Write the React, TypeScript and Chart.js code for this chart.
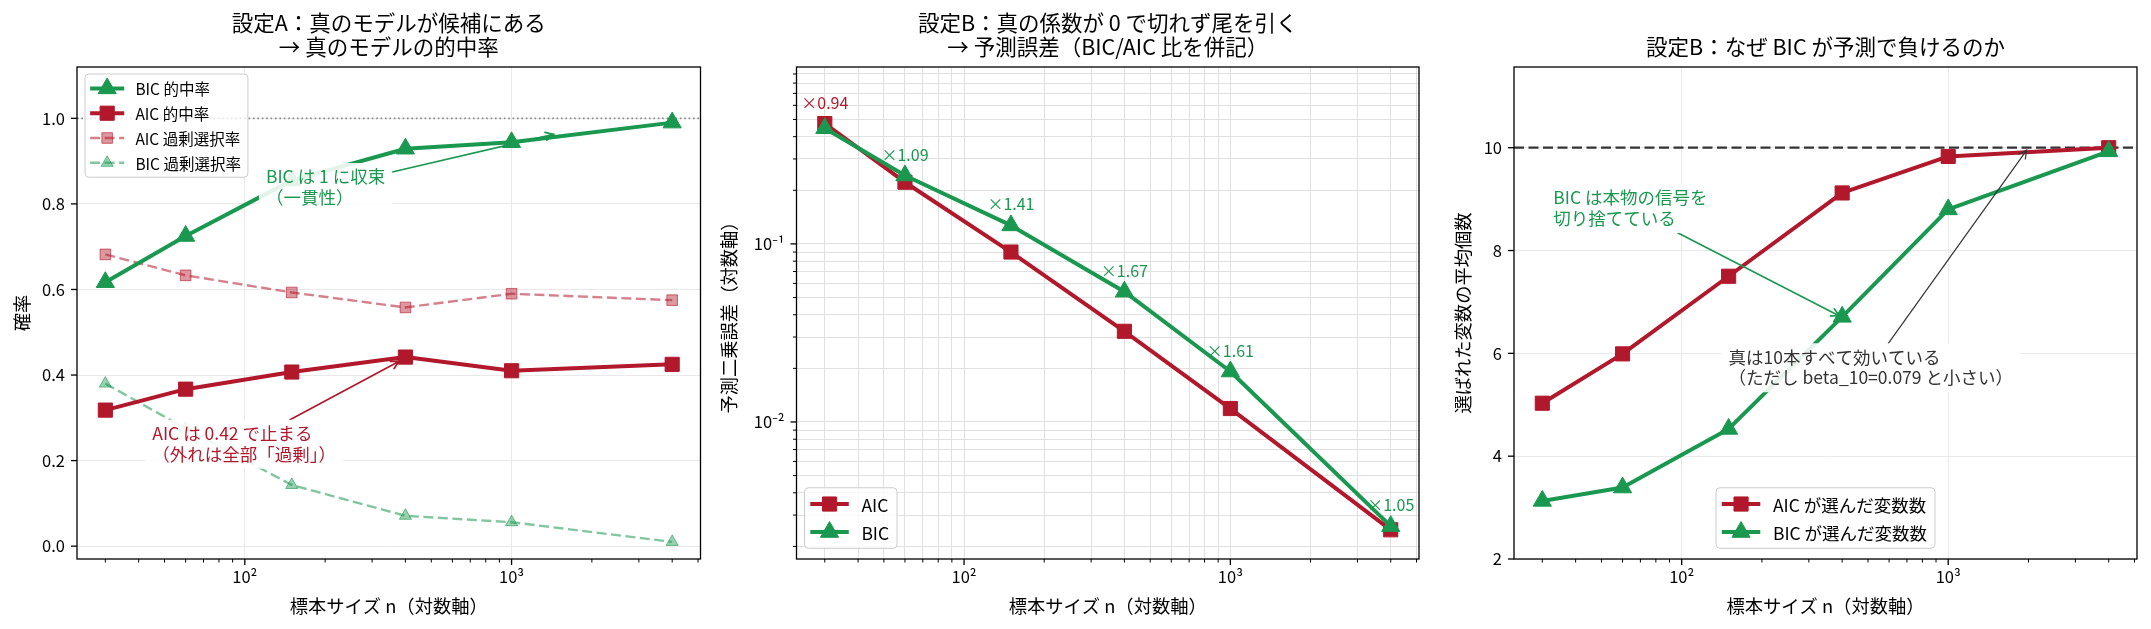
import React, { useEffect, useRef } from "react";
import { Chart, registerables } from "chart.js";

Chart.register(...registerables);

const FONT = '"Noto Sans CJK JP", "Noto Sans", "DejaVu Sans", sans-serif';
Chart.defaults.font.family = FONT;

const RED = "#b2182b";
const GREEN = "#1a9850";
const RED_SOFT = "rgba(178, 24, 43, 0.55)";
const GREEN_SOFT = "rgba(26, 152, 80, 0.55)";

// 標本サイズ（3 パネル共通）
const sampleSizes = [30, 60, 150, 400, 1000, 4000];

// 設定A：真のモデルの的中率・過剰選択率
const bicHitRate = [0.617, 0.725, 0.855, 0.929, 0.944, 0.99];
const aicHitRate = [0.318, 0.367, 0.407, 0.442, 0.41, 0.425];
const aicOverRate = [0.682, 0.633, 0.593, 0.558, 0.59, 0.575];
const bicOverRate = [0.38, 0.275, 0.143, 0.071, 0.056, 0.01];

// 設定B：予測二乗誤差と BIC/AIC 比
const aicMse = [0.474, 0.222, 0.09, 0.0323, 0.0119, 0.00248];
const bicMse = [0.446, 0.242, 0.127, 0.0539, 0.0192, 0.0026];
const ratioLabels = ["×0.94", "×1.09", "×1.41", "×1.67", "×1.61", "×1.05"];

// 設定B：選ばれた変数の平均個数
const aicSelected = [5.03, 5.99, 7.5, 9.12, 9.83, 10.0];
const bicSelected = [3.13, 3.39, 4.53, 6.71, 8.8, 9.93];

// 目盛り
const xTicks = [30, 40, 50, 60, 70, 80, 90, 100, 200, 300, 400, 500, 600, 700, 800, 900, 1000, 2000, 3000, 4000, 5000];
const xTickLabels: Record<string, string> = { "100": "10²", "1000": "10³" };
const probTicks = [0, 0.2, 0.4, 0.6, 0.8, 1.0];
const mseTicks = [
  0.002, 0.003, 0.004, 0.005, 0.006, 0.007, 0.008, 0.009, 0.01,
  0.02, 0.03, 0.04, 0.05, 0.06, 0.07, 0.08, 0.09, 0.1,
  0.2, 0.3, 0.4, 0.5, 0.6, 0.7, 0.8, 0.9,
];
const mseTickLabels: Record<string, string> = { "0.01": "10⁻²", "0.1": "10⁻¹" };
const countTicks = [2, 4, 6, 8, 10];

const CANVAS_H = 629;
const AREA_TOP = 67;
const AREA_BOTTOM = 559;
const X_MIN = 23.49;
const X_MAX = 5108;

type Series = {
  label: string;
  values: number[];
  color: string;
  width: number;
  dash?: number[];
  style: "rect" | "triangle";
  radius: number;
  fill: string;
  edge: string;
};

type Note = {
  text: string;
  at: [number, number];
  target: [number, number];
  color: string;
  shrink: number;
  lw: number;
};

type PanelSpec = {
  left: number;
  width: number;
  areaLeft: number;
  areaRight: number;
  title: string[];
  xLabel: string;
  yLabel: string;
  yLabelX: number;
  yType: "linear" | "logarithmic";
  yMin: number;
  yMax: number;
  yTicks: number[];
  yMajor?: number[];
  yLabelOf: (v: number) => string;
  grid: string;
  xGridMinor: boolean;
  series: Series[]; // 先頭が最前面
  legendOrder: number[];
  legendPos: "upper left" | "lower left" | "lower center";
  legendFont: number;
  refLine?: { value: number; color: string; dash: number[]; width: number };
  notes: Note[];
  ratio?: { labels: string[]; aic: number[]; bic: number[] };
};

const bigRect = (label: string, values: number[]): Series => ({
  label, values, color: RED, width: 4, style: "rect", radius: 10, fill: RED, edge: RED,
});
const bigTri = (label: string, values: number[]): Series => ({
  label, values, color: GREEN, width: 4, style: "triangle", radius: 10.5, fill: GREEN, edge: GREEN,
});

const panels: PanelSpec[] = [
  {
    left: 0,
    width: 712,
    areaLeft: 77,
    areaRight: 700.5,
    title: ["設定A：真のモデルが候補にある", "→ 真のモデルの的中率"],
    xLabel: "標本サイズ n（対数軸）",
    yLabel: "確率",
    yLabelX: 22,
    yType: "linear",
    yMin: -0.03,
    yMax: 1.12,
    yTicks: probTicks,
    yLabelOf: (v) => v.toFixed(1),
    grid: "#e9e9e9",
    xGridMinor: false,
    series: [
      bigTri("BIC 的中率", bicHitRate),
      bigRect("AIC 的中率", aicHitRate),
      {
        label: "AIC 過剰選択率", values: aicOverRate, color: RED_SOFT, width: 2.4, dash: [10, 4.5],
        style: "rect", radius: 7.5, fill: "rgba(178, 24, 43, 0.45)", edge: "rgba(178, 24, 43, 0.6)",
      },
      {
        label: "BIC 過剰選択率", values: bicOverRate, color: GREEN_SOFT, width: 2.4, dash: [10, 4.5],
        style: "triangle", radius: 7, fill: "rgba(26, 152, 80, 0.45)", edge: "rgba(26, 152, 80, 0.6)",
      },
    ],
    legendOrder: [0, 1, 2, 3],
    legendPos: "upper left",
    legendFont: 15.5,
    refLine: { value: 1.0, color: "#888888", dash: [1.6, 2.8], width: 1.6 },
    notes: [
      { text: "BIC は 1 に収束\n（一貫性）", at: [120, 0.8], target: [1500, 0.965], color: GREEN, shrink: 5, lw: 1.7 },
      { text: "AIC は 0.42 で止まる\n（外れは全部「過剰」）", at: [45, 0.2], target: [400, 0.44], color: RED, shrink: 7, lw: 1.7 },
    ],
  },
  {
    left: 712,
    width: 724,
    areaLeft: 796.5,
    areaRight: 1419,
    title: ["設定B：真の係数が 0 で切れず尾を引く", "→ 予測誤差（BIC/AIC 比を併記）"],
    xLabel: "標本サイズ n（対数軸）",
    yLabel: "予測二乗誤差（対数軸）",
    yLabelX: 729,
    yType: "logarithmic",
    yMin: 0.0017,
    yMax: 0.985,
    yTicks: mseTicks,
    yMajor: [0.01, 0.1],
    yLabelOf: (v) => mseTickLabels[String(v)] ?? "",
    grid: "#e0e0e0",
    xGridMinor: true,
    series: [bigTri("BIC", bicMse), bigRect("AIC", aicMse)],
    legendOrder: [1, 0],
    legendPos: "lower left",
    legendFont: 17.5,
    notes: [],
    ratio: { labels: ratioLabels, aic: aicMse, bic: bicMse },
  },
  {
    left: 1436,
    width: 715,
    areaLeft: 1514,
    areaRight: 2137,
    title: ["設定B：なぜ BIC が予測で負けるのか"],
    xLabel: "標本サイズ n（対数軸）",
    yLabel: "選ばれた変数の平均個数",
    yLabelX: 1463,
    yType: "linear",
    yMin: 2,
    yMax: 11.57,
    yTicks: countTicks,
    yLabelOf: (v) => String(v),
    grid: "#e9e9e9",
    xGridMinor: false,
    series: [bigTri("BIC が選んだ変数数", bicSelected), bigRect("AIC が選んだ変数数", aicSelected)],
    legendOrder: [1, 0],
    legendPos: "lower center",
    legendFont: 17.5,
    refLine: { value: 10, color: "#333333", dash: [10, 4.5], width: 2.2 },
    notes: [
      { text: "BIC は本物の信号を\n切り捨てている", at: [33, 8.5], target: [400, 6.7], color: GREEN, shrink: 3, lw: 1.6 },
      {
        text: "真は10本すべて効いている\n（ただし beta_10=0.079 と小さい）",
        at: [150, 5.4], target: [2000, 10], color: "#333333", shrink: 3, lw: 1.2,
      },
    ],
  },
];

const fontOf = (px: number) => `${px}px ${FONT}`;

function markerPath(ctx: CanvasRenderingContext2D, style: string, x: number, y: number, r: number) {
  ctx.beginPath();
  if (style === "rect") {
    const s = r * Math.SQRT1_2;
    ctx.rect(x - s, y - s, 2 * s, 2 * s);
  } else {
    ctx.moveTo(x, y - r);
    ctx.lineTo(x + r * 0.866, y + r * 0.5);
    ctx.lineTo(x - r * 0.866, y + r * 0.5);
    ctx.closePath();
  }
}

function roundedBox(ctx: CanvasRenderingContext2D, x: number, y: number, w: number, h: number, r: number) {
  ctx.beginPath();
  ctx.moveTo(x + r, y);
  ctx.lineTo(x + w - r, y);
  ctx.arcTo(x + w, y, x + w, y + r, r);
  ctx.lineTo(x + w, y + h - r);
  ctx.arcTo(x + w, y + h, x + w - r, y + h, r);
  ctx.lineTo(x + r, y + h);
  ctx.arcTo(x, y + h, x, y + h - r, r);
  ctx.lineTo(x, y + r);
  ctx.arcTo(x, y, x + r, y, r);
  ctx.closePath();
}

function drawNote(chart: Chart, n: Note) {
  const { ctx } = chart;
  const xs = chart.scales.x;
  const ys = chart.scales.y;
  const size = 17.5;
  const pitch = 20.5;
  const lines = n.text.split("\n");
  ctx.save();
  ctx.font = fontOf(size);
  const left = xs.getPixelForValue(n.at[0]);
  const lastBase = ys.getPixelForValue(n.at[1]);
  const firstBase = lastBase - pitch * (lines.length - 1);
  const w = Math.max(...lines.map((l) => ctx.measureText(l).width));
  const bx0 = left - 7;
  const bx1 = left + w + 7;
  const by0 = firstBase - size * 0.88 - 5;
  const by1 = lastBase + size * 0.12 + 6;

  // 矢印（テキスト枠の中心から、枠の縁で切る）
  const tx = xs.getPixelForValue(n.target[0]);
  const ty = ys.getPixelForValue(n.target[1]);
  const cx = (bx0 + bx1) / 2;
  const cy = (by0 + by1) / 2;
  const dx = tx - cx;
  const dy = ty - cy;
  const tX = dx !== 0 ? Math.abs(((dx > 0 ? bx1 : bx0) - cx) / dx) : Infinity;
  const tY = dy !== 0 ? Math.abs(((dy > 0 ? by1 : by0) - cy) / dy) : Infinity;
  const t = Math.min(tX, tY);
  const sx = cx + dx * t;
  const sy = cy + dy * t;
  const len = Math.hypot(tx - sx, ty - sy);
  const ux = (tx - sx) / len;
  const uy = (ty - sy) / len;
  const ex = tx - ux * n.shrink;
  const ey = ty - uy * n.shrink;
  ctx.strokeStyle = n.color;
  ctx.lineWidth = n.lw;
  ctx.lineCap = "round";
  ctx.beginPath();
  ctx.moveTo(sx, sy);
  ctx.lineTo(ex, ey);
  const hl = 8;
  const hw = 4;
  ctx.moveTo(ex - ux * hl - uy * hw, ey - uy * hl + ux * hw);
  ctx.lineTo(ex, ey);
  ctx.lineTo(ex - ux * hl + uy * hw, ey - uy * hl - ux * hw);
  ctx.stroke();

  // 白い背景枠とテキスト
  ctx.fillStyle = "rgba(255, 255, 255, 0.88)";
  roundedBox(ctx, bx0, by0, bx1 - bx0, by1 - by0, 4);
  ctx.fill();
  ctx.fillStyle = n.color;
  ctx.textAlign = "left";
  ctx.textBaseline = "alphabetic";
  lines.forEach((l, i) => ctx.fillText(l, left, firstBase + i * pitch));
  ctx.restore();
}

function drawLegend(chart: Chart, p: PanelSpec) {
  const { ctx, chartArea: a } = chart;
  const fs = p.legendFont;
  const pitch = fs * 1.6;
  const padX = fs * 0.33;
  const handle = fs * 2.2;
  const gap = fs * 0.72;
  const padY = fs * 0.93;
  const items = p.legendOrder.map((i) => p.series[i]);
  ctx.save();
  ctx.font = fontOf(fs);
  const tw = Math.max(...items.map((s) => ctx.measureText(s.label).width));
  const w = padX + handle + gap + tw + fs * 0.45;
  const h = padY * 2 + pitch * (items.length - 1);
  let x0 = a.left + 8;
  let y0 = a.top + 7;
  if (p.legendPos === "lower left") y0 = a.bottom - 10.7 - h;
  if (p.legendPos === "lower center") {
    x0 = (a.left + a.right) / 2 - w / 2;
    y0 = a.bottom - 10.7 - h;
  }
  roundedBox(ctx, x0, y0, w, h, 4);
  ctx.fillStyle = "rgba(255, 255, 255, 0.8)";
  ctx.fill();
  ctx.strokeStyle = "#cccccc";
  ctx.lineWidth = 1;
  ctx.stroke();
  items.forEach((s, k) => {
    const cy = y0 + padY + k * pitch;
    const hx = x0 + padX;
    ctx.strokeStyle = s.color;
    ctx.lineWidth = s.width;
    ctx.setLineDash(s.dash ?? []);
    ctx.beginPath();
    ctx.moveTo(hx, cy);
    ctx.lineTo(hx + handle, cy);
    ctx.stroke();
    ctx.setLineDash([]);
    markerPath(ctx, s.style, hx + handle / 2, cy, s.radius);
    ctx.fillStyle = s.fill;
    ctx.fill();
    ctx.strokeStyle = s.edge;
    ctx.lineWidth = 1;
    ctx.stroke();
    ctx.fillStyle = "#000";
    ctx.textAlign = "left";
    ctx.textBaseline = "middle";
    ctx.fillText(s.label, hx + handle + gap, cy + 1);
  });
  ctx.restore();
}

function makeDecor(p: PanelSpec) {
  return {
    id: "panelDecor",
    beforeDatasetsDraw(chart: Chart) {
      if (!p.refLine) return;
      const { ctx, chartArea: a } = chart;
      const y = chart.scales.y.getPixelForValue(p.refLine.value);
      ctx.save();
      ctx.strokeStyle = p.refLine.color;
      ctx.lineWidth = p.refLine.width;
      ctx.setLineDash(p.refLine.dash);
      ctx.beginPath();
      ctx.moveTo(a.left, y);
      ctx.lineTo(a.right, y);
      ctx.stroke();
      ctx.restore();
    },
    afterDatasetsDraw(chart: Chart) {
      const { ctx } = chart;
      if (p.ratio) {
        const r = p.ratio;
        ctx.save();
        ctx.font = fontOf(16);
        ctx.textAlign = "center";
        ctx.textBaseline = "alphabetic";
        sampleSizes.forEach((n, i) => {
          const hi = Math.max(r.aic[i], r.bic[i]);
          const px = chart.scales.x.getPixelForValue(n);
          const py = chart.scales.y.getPixelForValue(hi);
          ctx.fillStyle = r.aic[i] > r.bic[i] ? RED : GREEN;
          ctx.fillText(r.labels[i], px, py - 15);
        });
        ctx.restore();
      }
      p.notes.forEach((n) => drawNote(chart, n));
    },
    afterDraw(chart: Chart) {
      const { ctx, chartArea: a } = chart;
      drawLegend(chart, p);
      ctx.save();
      // 枠
      ctx.strokeStyle = "#000";
      ctx.lineWidth = 1.3;
      ctx.strokeRect(a.left, a.top, a.right - a.left, a.bottom - a.top);
      // 目盛り線
      xTicks.forEach((v) => {
        const px = chart.scales.x.getPixelForValue(v);
        const major = xTickLabels[String(v)] !== undefined;
        ctx.lineWidth = major ? 1.3 : 1;
        ctx.beginPath();
        ctx.moveTo(px, a.bottom);
        ctx.lineTo(px, a.bottom + (major ? 6 : 3.5));
        ctx.stroke();
      });
      p.yTicks.forEach((v) => {
        const py = chart.scales.y.getPixelForValue(v);
        const major = p.yMajor ? p.yMajor.includes(v) : true;
        ctx.lineWidth = major ? 1.3 : 1;
        ctx.beginPath();
        ctx.moveTo(a.left, py);
        ctx.lineTo(a.left - (major ? 6 : 3.5), py);
        ctx.stroke();
      });
      // タイトル
      const cx = (a.left + a.right) / 2;
      ctx.fillStyle = "#000";
      ctx.textAlign = "center";
      ctx.textBaseline = "middle";
      ctx.font = fontOf(21.5);
      const n = p.title.length;
      p.title.forEach((t, i) => ctx.fillText(t, cx, 47 - (n - 1 - i) * 24.5));
      // 軸ラベル
      ctx.font = fontOf(18.3);
      ctx.fillText(p.xLabel, cx, 606);
      ctx.translate(p.yLabelX - p.left, (a.top + a.bottom) / 2);
      ctx.rotate(-Math.PI / 2);
      ctx.fillText(p.yLabel, 0, 0);
      ctx.restore();
    },
  };
}

function buildConfig(p: PanelSpec): any {
  const yAxisWidth = p.areaLeft - p.left;
  const padRight = p.left + p.width - p.areaRight;
  const tickFont = { family: FONT, size: 16.5 };
  return {
    type: "line",
    data: {
      datasets: p.series.map((s) => ({
        label: s.label,
        data: sampleSizes.map((n, i) => ({ x: n, y: s.values[i] })),
        borderColor: s.color,
        backgroundColor: s.fill,
        borderWidth: s.width,
        borderDash: s.dash ?? [],
        borderJoinStyle: "round",
        pointStyle: s.style,
        pointRadius: s.radius,
        pointBackgroundColor: s.fill,
        pointBorderColor: s.edge,
        pointBorderWidth: 1,
        tension: 0,
        fill: false,
      })),
    },
    options: {
      responsive: false,
      animation: false,
      events: [],
      layout: { padding: { top: AREA_TOP, right: padRight, bottom: 0, left: 0 } },
      plugins: { legend: { display: false }, tooltip: { enabled: false }, title: { display: false } },
      scales: {
        x: {
          type: "logarithmic",
          min: X_MIN,
          max: X_MAX,
          afterBuildTicks: (s: any) => {
            s.ticks = xTicks.map((v) => ({ value: v, major: xTickLabels[String(v)] !== undefined }));
          },
          afterFit: (s: any) => {
            s.height = CANVAS_H - AREA_BOTTOM;
          },
          grid: {
            drawTicks: false,
            lineWidth: 1,
            color: (c: any) =>
              p.xGridMinor || xTickLabels[String(c.tick?.value)] !== undefined ? p.grid : "rgba(0,0,0,0)",
          },
          border: { display: false },
          ticks: {
            autoSkip: false,
            maxRotation: 0,
            minRotation: 0,
            padding: 8,
            color: "#000",
            font: tickFont,
            callback: (v: number) => xTickLabels[String(v)] ?? "",
          },
        },
        y: {
          type: p.yType,
          min: p.yMin,
          max: p.yMax,
          afterBuildTicks: (s: any) => {
            s.ticks = p.yTicks.map((v) => ({ value: v, major: p.yMajor ? p.yMajor.includes(v) : true }));
          },
          afterFit: (s: any) => {
            s.width = yAxisWidth;
          },
          grid: { drawTicks: false, lineWidth: 1, color: p.grid },
          border: { display: false },
          ticks: {
            autoSkip: false,
            padding: 12,
            color: "#000",
            font: tickFont,
            callback: (v: number) => p.yLabelOf(v),
          },
        },
      },
    },
    plugins: [makeDecor(p)],
  };
}

function ChartPanel({ spec }: { spec: PanelSpec }) {
  const canvasRef = useRef<HTMLCanvasElement | null>(null);

  useEffect(() => {
    if (!canvasRef.current) return;
    const chart = new Chart(canvasRef.current, buildConfig(spec));
    return () => {
      chart.destroy();
    };
  }, [spec]);

  return (
    <canvas
      ref={canvasRef}
      width={spec.width}
      height={CANVAS_H}
      style={{ position: "absolute", left: spec.left, top: 0, width: spec.width, height: CANVAS_H }}
    />
  );
}

export default function App() {
  return (
    <div
      style={{
        position: "fixed",
        left: 0,
        top: 0,
        width: 2151,
        height: CANVAS_H,
        background: "#ffffff",
        overflow: "hidden",
      }}
    >
      {panels.map((p, i) => (
        <ChartPanel key={i} spec={p} />
      ))}
    </div>
  );
}
